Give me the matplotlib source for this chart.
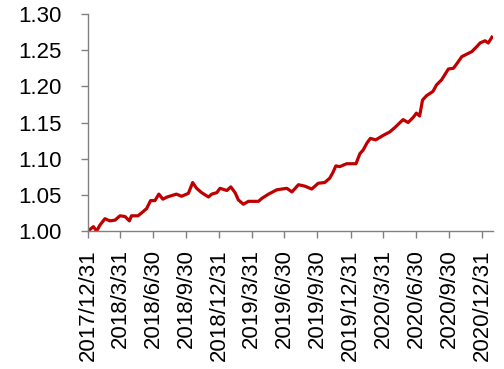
import pandas as pd
import numpy as np
import matplotlib
matplotlib.use('Agg')
import matplotlib.pyplot as plt
import matplotlib.dates as mdates

'Data (read from the reference chart)'
dates = ['2017-12-31', '2018-01-15', '2018-01-24', '2018-02-02', '2018-02-16', '2018-03-02',
         '2018-03-16', '2018-03-30', '2018-04-13', '2018-04-25', '2018-05-01', '2018-05-19',
         '2018-05-29', '2018-06-12', '2018-06-23', '2018-07-05', '2018-07-16', '2018-07-27',
         '2018-08-08', '2018-09-03', '2018-09-17', '2018-10-06', '2018-10-18', '2018-10-29',
         '2018-11-12', '2018-12-01', '2018-12-10', '2018-12-24', '2019-01-02', '2019-01-21',
         '2019-02-01', '2019-02-13', '2019-02-22', '2019-03-08', '2019-03-22', '2019-04-19',
         '2019-04-28', '2019-05-17', '2019-06-09', '2019-07-07', '2019-07-21', '2019-08-08',
         '2019-08-26', '2019-09-14', '2019-10-02', '2019-10-20', '2019-11-03', '2019-11-12',
         '2019-11-20', '2019-12-01', '2019-12-20', '2020-01-15', '2020-01-26', '2020-02-04',
         '2020-02-15', '2020-02-24', '2020-03-10', '2020-03-30', '2020-04-18', '2020-05-02',
         '2020-05-25', '2020-06-08', '2020-06-22', '2020-07-01', '2020-07-10', '2020-07-18',
         '2020-07-29', '2020-08-16', '2020-08-26', '2020-09-09', '2020-09-28', '2020-10-12',
         '2020-10-21', '2020-11-04', '2020-12-02', '2020-12-16', '2020-12-25', '2021-01-08',
         '2021-01-17', '2021-01-27']
values = [1.000, 1.006, 1.000, 1.008, 1.017, 1.014,
          1.015, 1.021, 1.020, 1.014, 1.021, 1.021,
          1.025, 1.031, 1.042, 1.042, 1.051, 1.044,
          1.047, 1.051, 1.048, 1.052, 1.067, 1.059,
          1.053, 1.047, 1.051, 1.053, 1.059, 1.056,
          1.061, 1.053, 1.043, 1.037, 1.041, 1.041,
          1.045, 1.051, 1.057, 1.059, 1.054, 1.064,
          1.062, 1.058, 1.066, 1.067, 1.073, 1.081,
          1.090, 1.089, 1.093, 1.093, 1.107, 1.112,
          1.122, 1.128, 1.126, 1.132, 1.137, 1.143,
          1.154, 1.150, 1.157, 1.163, 1.159, 1.181,
          1.187, 1.193, 1.202, 1.209, 1.224, 1.225,
          1.231, 1.241, 1.248, 1.255, 1.260, 1.263,
          1.260, 1.268]

tick_dates = ['2017-12-31', '2018-03-31', '2018-06-30', '2018-09-30', '2018-12-31',
              '2019-03-31', '2019-06-30', '2019-09-30', '2019-12-31', '2020-03-31',
              '2020-06-30', '2020-09-30', '2020-12-31']
tick_labels = ['2017/12/31', '2018/3/31', '2018/6/30', '2018/9/30', '2018/12/31',
               '2019/3/31', '2019/6/30', '2019/9/30', '2019/12/31', '2020/3/31',
               '2020/6/30', '2020/9/30', '2020/12/31']
y_ticks = [1.00, 1.05, 1.10, 1.15, 1.20, 1.25, 1.30]

Time = pd.to_datetime(dates)
Vp = pd.Series(values)

plt.rcParams['font.family'] = ['Liberation Sans', 'DejaVu Sans']

fig = plt.figure(figsize=(5.04, 3.69), dpi=100)
ax = fig.add_axes([0.1746, 0.374, 0.8036, 0.588])

ax.plot(Time, Vp, color='#C00000', linewidth=2.3, solid_joinstyle='round')

ax.set_xlim(pd.Timestamp('2017-12-31'), pd.Timestamp('2021-01-30'))
ax.set_ylim(1.00, 1.30)
ax.set_xticks(pd.to_datetime(tick_dates))
ax.set_xticklabels(tick_labels, rotation=90, fontsize=16)
ax.set_yticks(y_ticks)
ax.set_yticklabels(['%.2f' % v for v in y_ticks], fontsize=16)

# spines / ticks
for s in ['top', 'right']:
    ax.spines[s].set_visible(False)
for s in ['left', 'bottom']:
    ax.spines[s].set_color('#808080')
    ax.spines[s].set_linewidth(1.0)
ax.tick_params(axis='y', direction='out', length=5, width=1, color='#808080', pad=14)
ax.tick_params(axis='x', direction='out', length=5, width=1, color='#808080', pad=8)

fig.savefig('out.png', dpi=100)
